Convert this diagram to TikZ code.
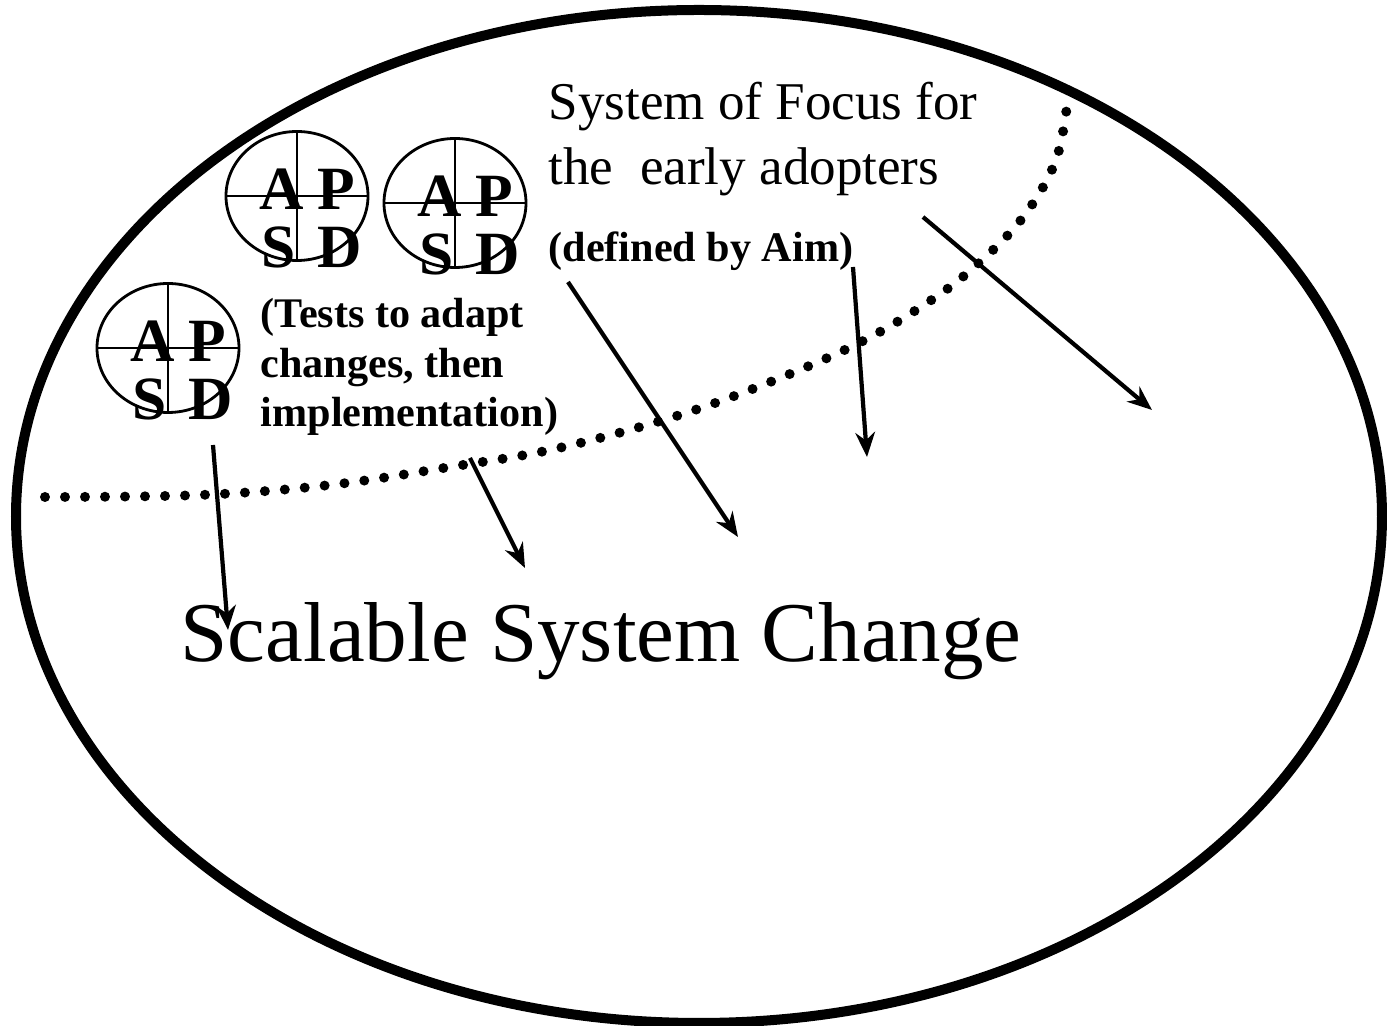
\documentclass[tikz,border=0pt]{standalone}
\usepackage{fontspec}
\setmainfont{Liberation Serif}
\usepackage{tikz}
\usetikzlibrary{arrows.meta}
\tikzstyle{arrow} = [line width=1.2pt,-{Stealth[length=7pt,width=5.6pt]}]
\tikzstyle{letter} = [font=\fontsize{17.5}{17.5}\selectfont\bfseries,inner sep=0pt]
\tikzstyle{txt} = [anchor=base west,inner sep=0pt,align=left]

\begin{document}
\begin{tikzpicture}
\useasboundingbox (0,0) rectangle (13.87,-10.26);
\draw[line width=0.1cm] (6.99,-5.165) ellipse (6.83cm and 5.065cm);
% border of the system of focus
\draw[line width=0.1cm,line cap=round,dash pattern=on 0pt off 0.2cm] plot[smooth,tension=0.6] coordinates {(0.45,-4.97) (2.0,-4.95) (3.3,-4.85) (4.5,-4.67) (5.5,-4.5) (6.57,-4.22) (7.5,-3.9) (8.55,-3.45) (9.3,-3.01) (9.8,-2.62) (10.24,-2.16) (10.56,-1.6) (10.68,-0.98)};
% PDSA cycles
\foreach \n/\x/\y in {c1/2.97/-1.96, c2/4.55/-2.03, c3/1.68/-3.48}{
  \draw[line width=0.8pt] (\x,\y) ellipse (0.71cm and 0.645cm);
  \draw[line width=0.8pt] (\x-0.71,\y) -- (\x+0.71,\y);
  \draw[line width=0.8pt] (\x,\y+0.645) -- (\x,\y-0.645);
  \node[letter] (\n a) at (\x-0.155,\y+0.065) {A};
  \node[letter] (\n p) at (\x+0.395,\y+0.065) {P};
  \node[letter] (\n s) at (\x-0.18,\y-0.51) {S};
  \node[letter] (\n d) at (\x+0.43,\y-0.51) {D};
}
% the last line of a node sits on the given point
\node[txt,font=\fontsize{15.1}{18.5}\selectfont] (focus) at (5.48,-1.85) {System of Focus for\\the\ \ early adopters};
\node[txt,font=\fontsize{12}{12}\selectfont\bfseries] (aim) at (5.48,-2.62) {(defined by Aim)};
\node[txt,font=\fontsize{12}{14.2}\selectfont\bfseries] (tests) at (2.60,-4.27) {(Tests to adapt\\changes, then\\implementation)};
\node[txt,font=\fontsize{24.2}{24.2}\selectfont] (scale) at (1.80,-6.62) {Scalable System Change};
% arrows
\coordinate (s1) at (2.13,-4.45);
\coordinate (e1) at (2.28,-6.30);
\coordinate (s2) at (4.70,-4.58);
\coordinate (e2) at (5.25,-5.68);
\coordinate (s3) at (5.68,-2.82);
\coordinate (e3) at (7.38,-5.37);
\coordinate (s4) at (8.53,-2.67);
\coordinate (e4) at (8.67,-4.57);
\coordinate (s5) at (9.23,-2.17);
\coordinate (e5) at (11.52,-4.10);
\foreach \i in {1,...,5}
  \draw[arrow] (s\i) -- (e\i);
\end{tikzpicture}
\end{document}
